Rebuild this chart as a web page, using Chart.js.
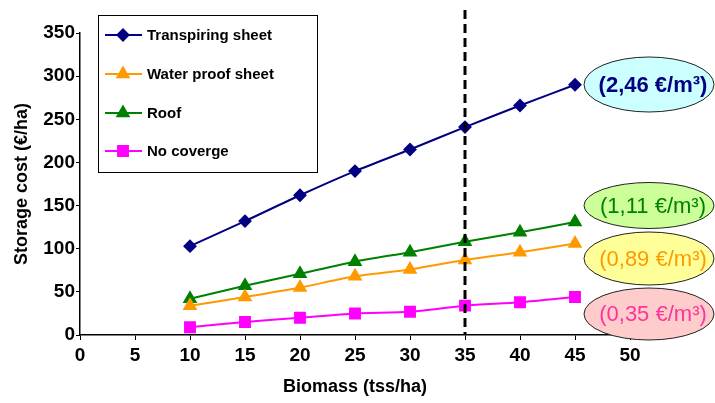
<!DOCTYPE html>
<html>
<head>
<meta charset="utf-8">
<title>Storage cost vs biomass</title>
<script src="https://cdn.jsdelivr.net/npm/chart.js@4/dist/chart.umd.min.js"></script>
<style>
  html, body { margin: 0; padding: 0; background: #fff; }
  canvas { display: block; }
</style>
</head>
<body>
<canvas id="c" width="715" height="403"></canvas>
<script>
// Biomass (tss/ha) on the x axis
const biomass = [10, 15, 20, 25, 30, 35, 40, 45];

// Storage cost (€/ha) for each storage option
const transpiringSheet = [103, 132, 162, 190, 215, 241, 266, 290];
const waterProofSheet  = [34, 44, 55, 68, 76, 87, 96, 106];
const roof             = [42, 57, 71, 85, 96, 108, 119, 131];
const noCoverge        = [9, 15, 20, 25, 27, 34, 38, 44];

const seriesNames = ['Transpiring sheet', 'Water proof sheet', 'Roof', 'No coverge'];

// Cost per cubic metre for each option
const costLabels = ['(2,46 €/m³)', '(1,11 €/m³)', '(0,89 €/m³)', '(0,35 €/m³)'];

// Axis ranges
const xMax = 50, xStep = 5;
const yMax = 350, yStep = 50;

// Reference biomass level marked by the dashed line
const markerBiomass = 35;

const FONT = "'Liberation Sans', Arial, Helvetica, sans-serif";

function pts(values) {
  return biomass.map((b, i) => ({ x: b, y: values[i] }));
}

const styles = [
  { color: '#000080', pointStyle: 'rectRot', radius: 5.5 },
  { color: '#ff9900', pointStyle: 'triangle', radius: 6.5 },
  { color: '#008000', pointStyle: 'triangle', radius: 6.5 },
  { color: '#ff00ff', pointStyle: 'rect', radius: 7 }
];

const seriesValues = [transpiringSheet, waterProofSheet, roof, noCoverge];

const datasets = seriesValues.map((vals, i) => ({
  label: seriesNames[i],
  data: pts(vals),
  borderColor: styles[i].color,
  backgroundColor: styles[i].color,
  pointBackgroundColor: styles[i].color,
  pointBorderColor: styles[i].color,
  pointStyle: styles[i].pointStyle,
  pointRadius: styles[i].radius,
  pointHoverRadius: styles[i].radius,
  borderWidth: 2,
  tension: 0.25,
  fill: false
}));

// Vertical dashed line at the reference biomass
const dashedMarker = {
  id: 'dashedMarker',
  afterDatasetsDraw(chart) {
    const { ctx, chartArea, scales } = chart;
    const x = scales.x.getPixelForValue(markerBiomass);
    ctx.save();
    ctx.strokeStyle = '#000';
    ctx.lineWidth = 3;
    ctx.setLineDash([9, 5]);
    ctx.beginPath();
    ctx.moveTo(x, 10);
    ctx.lineTo(x, chartArea.bottom);
    ctx.stroke();
    ctx.restore();
  }
};

// Boxed legend with a line sample and marker for each series
const boxedLegend = {
  id: 'boxedLegend',
  afterDraw(chart) {
    const { ctx } = chart;
    const box = { left: 98, top: 15, width: 219, height: 157 };
    const rows = [35, 74, 113, 151];
    ctx.save();
    ctx.fillStyle = '#fff';
    ctx.fillRect(box.left, box.top, box.width, box.height);
    ctx.strokeStyle = '#000';
    ctx.lineWidth = 1;
    ctx.strokeRect(box.left + 0.5, box.top + 0.5, box.width, box.height);
    ctx.font = 'bold 15px ' + FONT;
    ctx.textBaseline = 'middle';
    ctx.textAlign = 'left';
    chart.data.datasets.forEach((ds, i) => {
      const y = rows[i];
      ctx.strokeStyle = ds.borderColor;
      ctx.lineWidth = 2;
      ctx.beginPath();
      ctx.moveTo(105, y);
      ctx.lineTo(142, y);
      ctx.stroke();
      ctx.fillStyle = ds.borderColor;
      Chart.helpers.drawPoint(ctx, {
        pointStyle: ds.pointStyle,
        rotation: 0,
        radius: ds.pointRadius,
        borderWidth: 1
      }, 123, y);
      ctx.fillStyle = '#000';
      ctx.fillText(ds.label, 147, y + 1);
    });
    ctx.restore();
  }
};

// Cost-per-volume callouts in ellipses to the right of the plot
const costCallouts = {
  id: 'costCallouts',
  afterDraw(chart) {
    const { ctx, chartArea } = chart;
    const cx = chartArea.right + 19;
    const items = [
      { cy: 84.5, ry: 27.5, fill: '#ccffff', text: '#000080', weight: 'bold' },
      { cy: 205.5, ry: 23, fill: '#ccff99', text: '#008000', weight: 'normal' },
      { cy: 258.5, ry: 26.5, fill: '#ffff99', text: '#ff9900', weight: 'normal' },
      { cy: 314, ry: 26, fill: '#ffcccc', text: '#ff3399', weight: 'normal' }
    ];
    ctx.save();
    items.forEach((it, i) => {
      ctx.beginPath();
      ctx.ellipse(cx, it.cy, 65, it.ry, 0, 0, Math.PI * 2);
      ctx.fillStyle = it.fill;
      ctx.fill();
      ctx.strokeStyle = '#222';
      ctx.lineWidth = 1;
      ctx.stroke();
      ctx.font = it.weight + ' 22px ' + FONT;
      ctx.fillStyle = it.text;
      ctx.textAlign = 'center';
      ctx.textBaseline = 'middle';
      ctx.fillText(costLabels[i], cx + 4, it.cy + 1);
    });
    ctx.restore();
  }
};

new Chart(document.getElementById('c'), {
  type: 'line',
  data: { datasets },
  plugins: [dashedMarker, boxedLegend, costCallouts],
  options: {
    responsive: false,
    devicePixelRatio: 1,
    animation: false,
    layout: { padding: { left: 0, top: 33, right: 85, bottom: 0 } },
    plugins: {
      legend: { display: false },
      tooltip: { enabled: false }
    },
    scales: {
      x: {
        type: 'linear',
        min: 0,
        max: xMax,
        afterFit(scale) { scale.height = 68; },
        ticks: {
          stepSize: xStep,
          color: '#000',
          padding: 4,
          maxRotation: 0,
          font: { family: FONT, size: 19, weight: 'bold' }
        },
        grid: {
          drawOnChartArea: false,
          drawTicks: true,
          tickLength: 5,
          color: '#000',
          lineWidth: 1
        },
        border: { display: true, color: '#000', width: 1.5 },
        title: {
          display: true,
          text: 'Biomass (tss/ha)',
          color: '#000',
          font: { family: FONT, size: 18, weight: 'bold' },
          padding: { top: 0, bottom: 5 }
        }
      },
      y: {
        type: 'linear',
        min: 0,
        max: yMax,
        afterFit(scale) { scale.width = 80; },
        ticks: {
          stepSize: yStep,
          color: '#000',
          padding: 1,
          font: { family: FONT, size: 19, weight: 'bold' }
        },
        grid: {
          drawOnChartArea: false,
          drawTicks: true,
          tickLength: 4,
          color: '#000',
          lineWidth: 1
        },
        border: { display: true, color: '#000', width: 1.5 },
        title: {
          display: true,
          text: 'Storage cost (€/ha)',
          color: '#000',
          font: { family: FONT, size: 18, weight: 'bold' },
          padding: { top: 11, bottom: 0 }
        }
      }
    }
  }
});
</script>
</body>
</html>
